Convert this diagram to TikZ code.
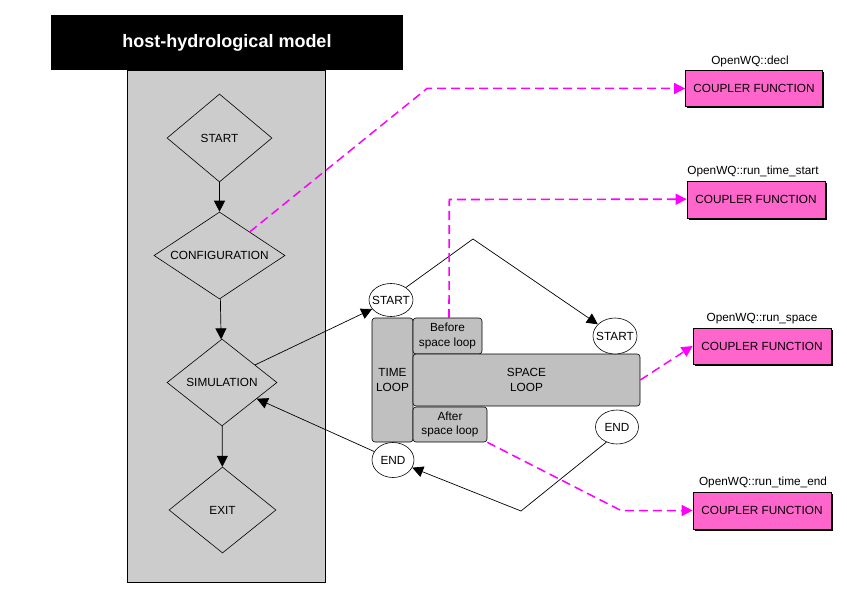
\documentclass[tikz,border=0pt]{standalone}
\usepackage{fontspec}
\setmainfont{Liberation Sans}
\usepackage{tikz}
\usetikzlibrary{shapes.geometric,arrows.meta,positioning,shadows}
\usepackage{xcolor}
\definecolor{panelgrey}{HTML}{CCCCCC}
\definecolor{loopgrey}{HTML}{C0C0C0}
\definecolor{couplerpink}{HTML}{FF66CC}
\definecolor{callmagenta}{HTML}{FF00FF}

\begin{document}
\begin{tikzpicture}[x=1pt, y=-1pt,
    font=\fontsize{11.8}{14.5}\selectfont,
    decision/.style={draw, diamond, aspect=1.5, inner sep=0pt, line width=0.6pt},
    terminal/.style={draw, ellipse, fill=white, inner xsep=-3.5pt, inner ysep=0pt, minimum width=44pt, minimum height=33pt, line width=0.6pt},
    loopbox/.style={draw, rectangle, rounded corners=3pt, fill=loopgrey, align=center, inner sep=2pt, line width=0.6pt},
    coupler/.style={draw, rectangle, fill=couplerpink, minimum width=137pt, minimum height=36pt, line width=0.7pt,
        general shadow={fill=black, shadow xshift=1.6pt, shadow yshift=-1.6pt}},
    flow/.style={-{Triangle[length=11pt, width=11pt]}, line width=0.7pt},
    call/.style={-{Triangle[length=11pt, width=11pt]}, draw=callmagenta, line width=1.5pt, dash pattern=on 9pt off 5pt}
]
    \useasboundingbox (0,0) rectangle (847,599);

    % Host model
    \node[draw, fill=panelgrey, minimum width=198pt, minimum height=512pt, line width=0.7pt] (host) at (226,326) {};
    \node[fill=black, text=white, minimum width=352pt, minimum height=55pt, font=\fontsize{18}{20}\selectfont\bfseries] (title) at (227,42.5) {host-hydrological model};

    % Host steps
    \node[decision, minimum width=105pt, minimum height=88pt] (start) at (219.5,138) {START};
    \node[decision, minimum width=131pt, minimum height=87pt] (config) at (219.5,255.5) {CONFIGURATION};
    \node[decision, minimum width=110pt, minimum height=87pt] (sim) at (222,382.5) {SIMULATION};
    \node[decision, minimum width=107pt, minimum height=86pt] (exit) at (222.5,510) {EXIT};

    % Loops
    \node[loopbox, minimum width=41pt, minimum height=124pt] (timeloop) at (392.5,380) {TIME\\LOOP};
    \node[loopbox, minimum width=69pt, minimum height=36pt] (before) at (447.5,336) {Before\\space loop};
    \node[loopbox, minimum width=227pt, minimum height=52pt] (spaceloop) at (526.5,380) {SPACE\\LOOP};
    \node[loopbox, minimum width=74pt, minimum height=35pt] (after) at (450,424.5) {After\\space loop};

    \node[terminal] (tstart) at (391,300) {START};
    \node[terminal, minimum height=36pt] (sstart) at (615,336) {START};
    \node[terminal, minimum width=43pt, minimum height=34pt] (send) at (617,427) {END};
    \node[terminal, minimum width=42pt, minimum height=35pt] (tend) at (393,460) {END};

    \coordinate (peak) at (473,239);
    \coordinate (valley) at (521,511);

    % Coupler functions
    \node[coupler] (cfdecl) at (754,88.5) {COUPLER FUNCTION};
    \node[coupler, minimum width=138pt, minimum height=37pt] (cfstart) at (756,199.5) {COUPLER FUNCTION};
    \node[coupler, minimum width=138pt] (cfspace) at (762,346) {COUPLER FUNCTION};
    \node[coupler, minimum width=138pt, minimum height=37pt] (cfend) at (762,510.5) {COUPLER FUNCTION};

    \node[above=0pt of cfdecl, xshift=-4pt] (lbldecl) {OpenWQ::decl};
    \node[above=0pt of cfstart, xshift=-3pt] (lblstart) {OpenWQ::run\_time\_start};
    \node[above=0pt of cfspace] (lblspace) {OpenWQ::run\_space};
    \node[above=0pt of cfend, xshift=1pt] (lblend) {OpenWQ::run\_time\_end};

    \coordinate (declbend) at (427,88.5);
    \coordinate (startbend) at (449.3,199.5);
    \coordinate (beforetop) at (449,318);
    \coordinate (endbend) at (621,510.5);

    % Arrows
    \draw[flow] (start) -- (config);
    \draw[flow] (config) -- (sim);
    \draw[flow] (sim) -- (exit);
    \draw[flow] (sim.28) -- (tstart);
    \draw[flow] (tstart.40) -- (peak) -- (sstart);
    \draw[flow] (send.235) -- (valley) -- (tend);
    \draw[flow] (tend) -- (sim.-25);

    % Calls to OpenWQ
    \draw[call] (config.38) -- (declbend) -- (cfdecl.west);
    \draw[call, line width=1.6pt] (beforetop) -- (startbend) -- ([yshift=0.3pt]cfstart.west);
    \draw[call] (spaceloop.east) -- (cfspace.west);
    \draw[call] (after.south east) -- (endbend) -- (cfend.west);
\end{tikzpicture}
\end{document}
